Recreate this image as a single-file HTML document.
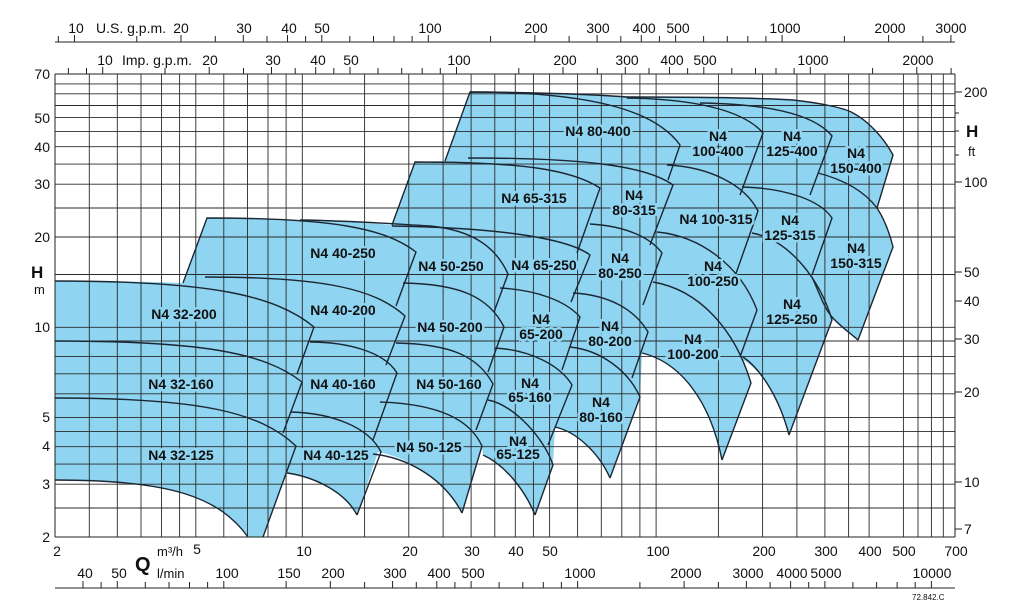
<!DOCTYPE html>
<html><head><meta charset="utf-8"><style>
html,body{margin:0;padding:0;background:#fff;}
svg{display:block;font-family:"Liberation Sans",Arial,sans-serif;}
.g{stroke:#2a2a2a;stroke-width:0.9;fill:none}
.c{stroke:#1b2733;stroke-width:1.4;fill:none;stroke-linejoin:round}
.ax{font-size:14px;fill:#111}
.lb{font-size:14px;font-weight:bold;fill:#111;stroke:#8fd4f1;stroke-width:5;paint-order:stroke;text-anchor:middle}
.t{stroke:#222;stroke-width:1}
</style></head><body>
<svg width="1023" height="607" viewBox="0 0 1023 607">
<path fill="#8fd4f1" d="M55,281 C120,281 160,282 183,283 L207,218 C300,219 360,222 392,225 L415,162 L445,161 L470,92 C540,92 600,95 627,97 C700,97 760,98 793,100 C820,103 845,108 853,113 C870,122 885,140 893,155 L877,208 C885,220 890,235 893,247 L858,340 C850,333 840,326 833,318 L789,435 C780,400 762,370 743,360 L751,383 L722,460 C710,400 680,362 642,353 L640,397 L610,478 C600,455 578,432 555,427 L553,465 L535,515 C525,490 505,465 483,455 L482,446 L462,513 C445,480 410,458 378,452 L357,515 C345,492 315,477 287,473 L263,537 L248,537 C219,497 171,480 55,480 Z"/>
<g class="g">
<path d="M55,74V537M89.3,74V537M117.3,74V537M141,74V537M161.5,74V537M179.6,74V537M195.8,74V537M223.8,74V537M247.5,74V537M268,74V537M286.1,74V537M302.3,74V537M364.6,74V537M408.8,74V537M443.1,74V537M471.1,74V537M494.8,74V537M515.3,74V537M533.4,74V537M549.6,74V537M577.6,74V537M601.3,74V537M621.8,74V537M639.9,74V537M656.1,74V537M718.4,74V537M762.6,74V537M796.9,74V537M824.9,74V537M848.6,74V537M869.1,74V537M903.4,74V537M918,74V537M931.4,74V537M943.3,74V537M955,74V537"/>
<path d="M55,537H955M55,508H955M55,484.2H955M55,464.1H955M55,446.7H955M55,431.4H955M55,417.6H955M55,393.8H955M55,373.8H955M55,356.4H955M55,341H955M55,327.3H955M55,274.5H955M55,237H955M55,208H955M55,184.2H955M55,164.1H955M55,146.7H955M55,131.4H955M55,117.6H955M55,105.5H955M55,93.8H955M55,83.9H955M55,74H955"/>
</g>
<g class="c">
<path d="M55,281 C210,281 275,295 314,327 L297,374"/>
<path d="M55,341 C203,341 265,353 302,382 L283,433"/>
<path d="M55,398 C200,398 260,412 296,446 L263,537"/>
<path d="M55,480 C171,480 219,497 248,537"/>
<path d="M183,283 L207,218 C332,218 385,228 416,252 L396,306"/>
<path d="M205,277 C325,277 375,289 405,316 L386,365"/>
<path d="M310,342 C345,342 384,351 397,373 L373,440"/>
<path d="M291,412 C330,413 368,426 381,452 L357,515"/>
<path d="M287,473 C315,477 345,492 357,515"/>
<path d="M300,220 C360,221 392,224 430,226 C470,230 495,245 508,274 L494,312"/>
<path d="M403,283 C460,284 489,297 504,327 L488,372"/>
<path d="M396,343 C450,344 478,356 493,384 L476,430"/>
<path d="M380,402 C440,404 470,420 482,446 L462,513"/>
<path d="M373,454 C410,458 445,480 462,513"/>
<path d="M392,225 L415,162 C525,162 572,170 600,188 L577,253"/>
<path d="M392,226 C510,228 570,240 590,255 L571,302"/>
<path d="M500,288 C535,290 565,300 580,317 L562,370"/>
<path d="M495,348 C530,350 560,365 572,385 L548,445"/>
<path d="M488,400 C515,405 545,440 553,465 L535,515"/>
<path d="M483,455 C505,465 525,490 535,515"/>
<path d="M445,161 L470,92 C590,92 655,110 680,145 L668,180"/>
<path d="M470,92 C540,92 600,95 627,97 L627,98"/>
<path d="M468,158 C580,158 645,165 673,185 L650,245"/>
<path d="M590,224 C625,226 650,237 662,253 L643,305"/>
<path d="M573,293 C610,295 635,310 648,332 L632,378"/>
<path d="M570,347 C600,350 628,370 640,397 L610,478"/>
<path d="M555,427 C578,432 600,455 610,478"/>
<path d="M627,98 C700,99 745,112 763,133 L740,195"/>
<path d="M667,165 C710,167 745,185 758,211 L733,282"/>
<path d="M657,232 C700,236 740,265 757,310 L740,357"/>
<path d="M653,282 C700,290 735,330 751,383 L722,460"/>
<path d="M642,353 C680,362 710,400 722,460"/>
<path d="M700,103 C770,104 815,115 832,136 L810,195"/>
<path d="M742,187 C785,188 820,200 832,218 L812,275"/>
<path d="M752,233 C790,240 820,280 832,320 L789,435"/>
<path d="M743,357 C762,370 780,400 789,435"/>
<path d="M627,97 C700,97 760,98 793,100 C820,103 845,108 853,113 C870,122 885,140 893,155 L877,208"/>
<path d="M818,173 C845,180 865,192 877,208 C885,220 890,235 893,247 L858,340"/>
<path d="M812,277 C820,295 825,310 833,318 C840,326 850,333 858,340"/>
</g>
<g class="lb">
<text x="598" y="136">N4 80-400</text>
<text x="718" y="141">N4</text><text x="718" y="156">100-400</text>
<text x="792" y="141">N4</text><text x="792" y="156">125-400</text>
<text x="856" y="158">N4</text><text x="856" y="173">150-400</text>
<text x="534" y="203">N4 65-315</text>
<text x="634" y="200">N4</text><text x="634" y="215">80-315</text>
<text x="716" y="224">N4 100-315</text>
<text x="790" y="225">N4</text><text x="790" y="240">125-315</text>
<text x="856" y="253">N4</text><text x="856" y="268">150-315</text>
<text x="343" y="258">N4 40-250</text>
<text x="451" y="271">N4 50-250</text>
<text x="544" y="270">N4 65-250</text>
<text x="620" y="263">N4</text><text x="620" y="278">80-250</text>
<text x="713" y="271">N4</text><text x="713" y="286">100-250</text>
<text x="792" y="309">N4</text><text x="792" y="324">125-250</text>
<text x="184" y="319">N4 32-200</text>
<text x="343" y="315">N4 40-200</text>
<text x="450" y="332">N4 50-200</text>
<text x="541" y="324">N4</text><text x="541" y="339">65-200</text>
<text x="610" y="331">N4</text><text x="610" y="346">80-200</text>
<text x="693" y="344">N4</text><text x="693" y="359">100-200</text>
<text x="181" y="389">N4 32-160</text>
<text x="343" y="389">N4 40-160</text>
<text x="449" y="389">N4 50-160</text>
<text x="530" y="388">N4</text><text x="530" y="402">65-160</text>
<text x="601" y="407">N4</text><text x="601" y="422">80-160</text>
<text x="181" y="460">N4 32-125</text>
<text x="336" y="460">N4 40-125</text>
<text x="429" y="452">N4 50-125</text>
<text x="518" y="446">N4</text><text x="518" y="459">65-125</text>
</g>
<g class="t">
<path d="M55,42H955M55,74H955M55,537H955M55,74V537M955,74V537M55,588H955"/>
<path d="M58.3,36V42M74.5,35V42M136.8,36V42M181,35V42M215.3,36V42M243.3,35V42M267,36V42M287.5,35V42M305.6,36V42M321.8,35V42M349.8,36V42M373.5,36V42M394,36V42M412.1,36V42M428.3,35V42M490.6,36V42M534.8,35V42M569.1,36V42M597.1,35V42M620.8,36V42M641.3,35V42M659.4,36V42M675.6,35V42M703.6,36V42M727.3,36V42M747.8,36V42M765.9,36V42M782.1,35V42M844.4,36V42M888.6,35V42M922.9,36V42M950.9,35V42"/>
<path d="M68.4,68V74M86.5,68V74M102.7,67V74M165,68V74M209.2,67V74M243.5,68V74M271.5,67V74M295.2,68V74M315.7,67V74M333.8,68V74M350,67V74M378,68V74M401.7,68V74M422.2,68V74M440.3,68V74M456.5,67V74M518.8,68V74M563,67V74M597.3,68V74M625.3,67V74M649,68V74M669.5,67V74M687.6,68V74M703.8,67V74M731.8,68V74M755.5,68V74M776,68V74M794.1,68V74M810.3,67V74M872.6,68V74M916.8,67V74M951.1,68V74"/>
<path d="M83,581V588M101.1,582V588M117.3,581V588M145.3,582V588M169,582V588M189.5,582V588M207.6,582V588M223.8,581V588M286.1,581V588M330.3,581V588M364.6,582V588M392.6,581V588M416.3,582V588M436.8,581V588M454.9,582V588M471.1,581V588M499.1,582V588M522.8,582V588M543.3,582V588M561.4,582V588M577.6,581V588M639.9,582V588M684.1,581V588M718.4,582V588M746.4,581V588M770.1,582V588M790.6,581V588M808.7,582V588M824.9,581V588M852.9,582V588M876.6,582V588M897.1,582V588M915.2,582V588M931.4,581V588"/>
<path d="M955,92H962M955,182H962M955,272H962M955,301H962M955,339H962M955,392H962M955,482H962M955,529H962M955,155H959M955,131H959M955,113H959"/>
</g>
<g class="ax">
<g text-anchor="middle">
<text x="76" y="33">10</text><text x="181" y="33">20</text><text x="244" y="33">30</text><text x="289" y="33">40</text><text x="322" y="33">50</text><text x="430" y="33">100</text><text x="536" y="33">200</text><text x="598" y="33">300</text><text x="644" y="33">400</text><text x="678" y="33">500</text><text x="785" y="33">1000</text><text x="890" y="33">2000</text><text x="951" y="33">3000</text>
<text x="105" y="65">10</text><text x="210" y="65">20</text><text x="273" y="65">30</text><text x="318" y="65">40</text><text x="351" y="65">50</text><text x="459" y="65">100</text><text x="565" y="65">200</text><text x="627" y="65">300</text><text x="672" y="65">400</text><text x="705" y="65">500</text><text x="813" y="65">1000</text><text x="918" y="65">2000</text>
<text x="57" y="556">2</text><text x="197" y="554">5</text><text x="304" y="556">10</text><text x="410" y="556">20</text><text x="472" y="556">30</text><text x="516" y="556">40</text><text x="550" y="556">50</text><text x="658" y="556">100</text><text x="764" y="556">200</text><text x="826" y="556">300</text><text x="870" y="556">400</text><text x="904" y="556">500</text><text x="956" y="556">700</text>
<text x="85" y="578">40</text><text x="119" y="578">50</text><text x="227" y="578">100</text><text x="289" y="578">150</text><text x="333" y="578">200</text><text x="395" y="578">300</text><text x="439" y="578">400</text><text x="473" y="578">500</text><text x="580" y="578">1000</text><text x="686" y="578">2000</text><text x="748" y="578">3000</text><text x="792" y="578">4000</text><text x="826" y="578">5000</text><text x="932" y="578">10000</text>
</g>
<text x="96" y="33">U.S. g.p.m.</text>
<text x="122" y="65">Imp. g.p.m.</text>
<text x="157" y="556" font-size="13">m³/h</text>
<text x="157" y="578" font-size="13">l/min</text>
<text x="135" y="571" font-size="20" font-weight="bold">Q</text>
<g text-anchor="end">
<text x="50" y="79">70</text><text x="50" y="123">50</text><text x="50" y="152">40</text><text x="50" y="189">30</text><text x="50" y="242">20</text><text x="50" y="332">10</text><text x="50" y="422">5</text><text x="50" y="451">4</text><text x="50" y="489">3</text><text x="50" y="542">2</text>
</g>
<text x="31" y="278" font-size="17" font-weight="bold">H</text>
<text x="34" y="294" font-size="13">m</text>
<text x="964" y="97">200</text><text x="964" y="187">100</text><text x="964" y="277">50</text><text x="964" y="306">40</text><text x="964" y="344">30</text><text x="964" y="397">20</text><text x="964" y="487">10</text><text x="964" y="534">7</text>
<text x="966" y="137" font-size="17" font-weight="bold">H</text>
<text x="968" y="156" font-size="13">ft</text>
<text x="912" y="600" font-size="8">72.842.C</text>
</g>
</svg>
</body></html>
